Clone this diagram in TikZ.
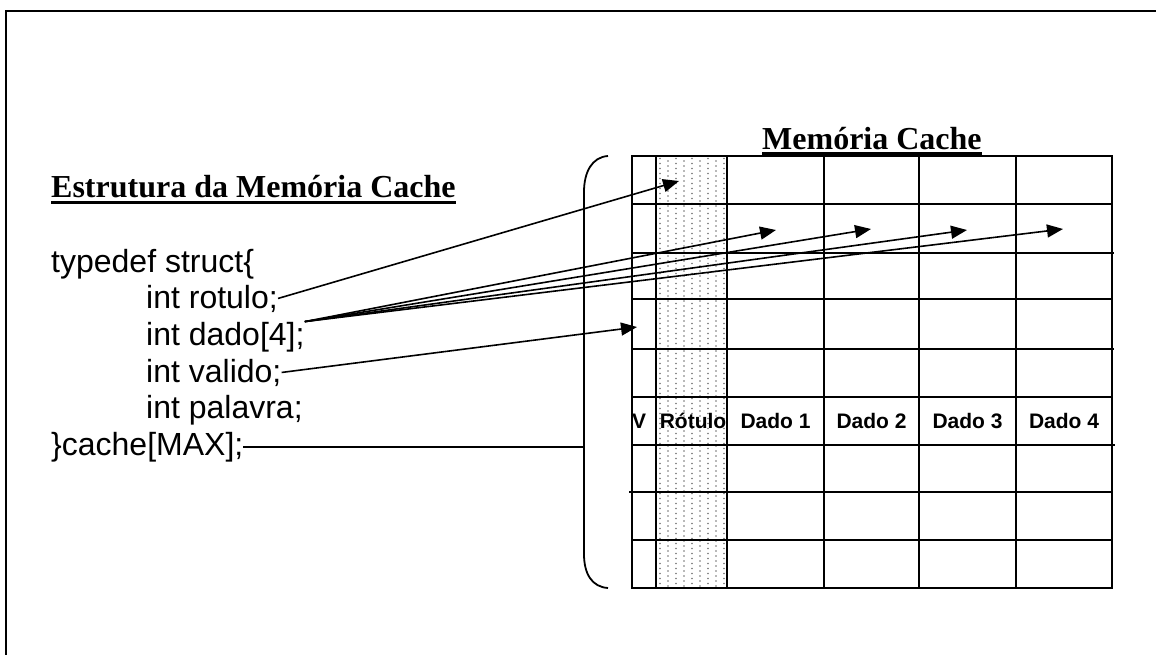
\documentclass[tikz,border=0pt]{standalone}
\usepackage{fontspec}
\setmainfont{Liberation Serif}
\setsansfont{Liberation Sans}
\usetikzlibrary{arrows.meta}
\begin{document}
\begin{tikzpicture}[x=1pt,y=-1pt,
  gridline/.style={line width=2.1pt},
  link/.style={line width=1.6pt},
  pointer/.style={link,-{Triangle[length=16pt,width=13pt]}},
  code/.style={anchor=base west,inner sep=0pt,font=\sffamily\fontsize{32}{36}\selectfont},
  heading/.style={anchor=base west,inner sep=0pt,font=\bfseries\fontsize{32}{36}\selectfont},
  colhead/.style={anchor=base,inner sep=0pt,font=\sffamily\bfseries\fontsize{21}{24}\selectfont}]

\useasboundingbox (0,0) rectangle (1156,654);
\fill[white] (0,0) rectangle (1156,654);

% page frame (runs off the right and bottom edges)
\draw[line width=2.2pt] (6,670) -- (6,11) -- (1170,11);

% headings
\node[heading] (h1) at (51,197) {Estrutura da Memória Cache};
\draw[line width=3pt] ([yshift=-5pt]h1.base west) -- ([yshift=-5pt]h1.base east);
\node[heading] (h2) at (762,149) {Memória Cache};
\draw[line width=3pt] ([yshift=-4.5pt]h2.base west) -- ([yshift=-4.5pt]h2.base east);

% struct declaration
\node[code] (ty)  at (51,272)  {typedef struct\{};
\node[code] (rot) at (146,308) {int rotulo;};
\node[code] (dad) at (146,345) {int dado[4];};
\node[code] (val) at (146,382) {int valido;};
\node[code] (pal) at (146,418) {int palavra;};
\node[code] (cac) at (51,455)  {\}cache[MAX];};

% dotted tag column
\foreach \i in {0,...,8}{
  \pgfmathsetmacro\dx{660+8*\i}
  \pgfmathsetmacro\off{mod(\i,2)*2.5}
  \foreach \j in {0,...,85}{
    \fill[black!55] (\dx,158.5+\off+5*\j) circle (0.8);
  }
}

% cache table grid
\foreach \c in {656,727,824,919,1016}
  \draw[gridline] (\c,156) -- (\c,588);
\foreach \r in {204,253,299,349,397,445,492,540}
  \draw[gridline] (632,\r) -- (1112,\r);
\draw[gridline] (1112,253) -- (1114,253);
\draw[gridline] (1112,349) -- (1114,349);
\draw[gridline] (1112,445) -- (1115,445);
\draw[gridline] (629,492) -- (632,492);
\draw[gridline,line join=miter] (632,156) rectangle (1112,588);

% column headings
\node[colhead] (hv)  at (639,428)    {V};
\node[colhead] (hr)  at (693,428)    {Rótulo};
\node[colhead] (hd1) at (775.5,428)  {Dado 1};
\node[colhead] (hd2) at (871.5,428)  {Dado 2};
\node[colhead] (hd3) at (967.5,428)  {Dado 3};
\node[colhead] (hd4) at (1064,428)   {Dado 4};

% brace grouping the rows
\draw[line width=1.8pt] (608,156) .. controls (592,157) and (584,172) .. (584,192)
  -- (584,554) .. controls (584,574) and (592,587) .. (608,588);
\coordinate (bracemid) at (584,445.5);

% arrow targets
\coordinate (tagcell) at (679,181);
\coordinate (dA) at (776,230);
\coordinate (dB) at (871,229);
\coordinate (dC) at (967,230);
\coordinate (dD) at (1063,229);
\coordinate (vcell) at (637,327);

% connectors
\draw[pointer] (rot.east) -- (tagcell);
\foreach \t in {dA,dB,dC,dD}
  \draw[pointer] (dad.north east) -- (\t);
\draw[pointer] (val.east) -- (vcell);
\draw[link] (cac.east) -- (cac.east -| bracemid);
\end{tikzpicture}
\end{document}
